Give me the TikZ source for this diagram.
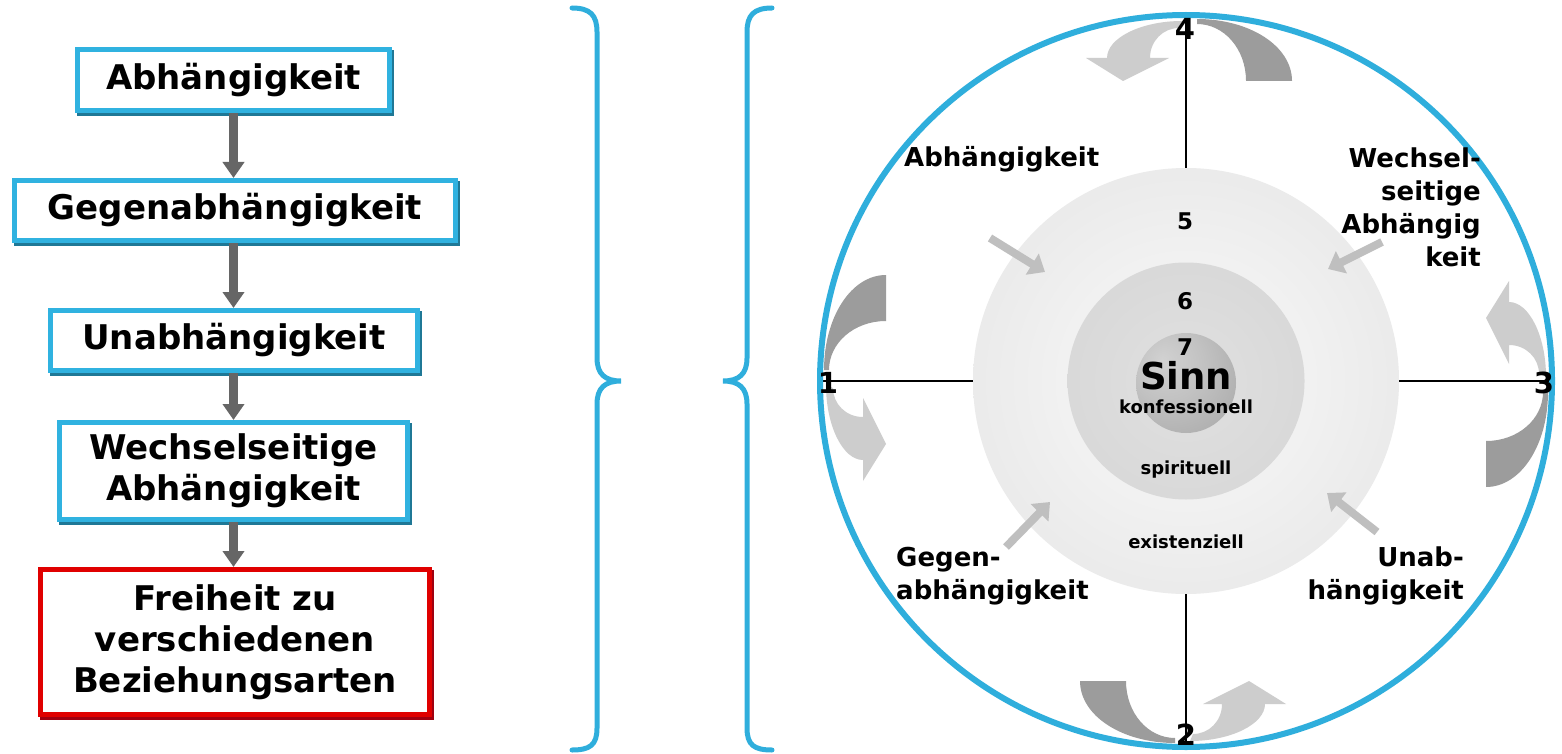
\documentclass[tikz,border=0pt]{standalone}
\usepackage{fontspec}
\setmainfont{DejaVu Sans}
\usetikzlibrary{arrows.meta,calc}

\definecolor{frameblue}{HTML}{30B2E0}
\definecolor{framedark}{HTML}{1F7896}
\definecolor{framered}{HTML}{E00000}
\definecolor{framereddark}{HTML}{A00010}
\definecolor{ringblue}{HTML}{2FAEDC}
\definecolor{flowgray}{HTML}{666666}
\definecolor{tailgray}{HTML}{9C9C9C}
\definecolor{headgray}{HTML}{CDCDCD}

% grey sphere with a highlight to the upper left
\pgfdeclareradialshading{softball}{\pgfpoint{-12bp}{12bp}}{%
  color(0bp)=(black!18); color(18bp)=(black!24); color(40bp)=(black!33);
  color(62bp)=(black!42); color(80bp)=(black!46)}

\newcommand{\bxfont}{\fontsize{34}{41}\selectfont\bfseries}
\newcommand{\lblfont}{\fontsize{26}{32.7}\selectfont\bfseries}
\newcommand{\numfont}{\fontsize{29}{30}\selectfont\bfseries}
\newcommand{\ringnumfont}{\fontsize{23}{24}\selectfont\bfseries}
\newcommand{\layerfont}{\fontsize{18}{20}\selectfont\bfseries}

\tikzset{
  stagebox/.style={draw=frameblue, line width=5pt, fill=white, inner sep=0pt,
    outer sep=0pt, align=center, font=\bxfont,
    preaction={draw=framedark, line width=5pt,
      transform canvas={shift={(2pt,-3pt)}}}},
  goalbox/.style={stagebox, draw=framered,
    preaction={draw=framereddark, line width=5pt,
      transform canvas={shift={(2pt,-3pt)}}}},
  flow/.style={draw=flowgray, line width=9pt,
    -{Triangle[width=21pt,length=16pt]}, shorten <=2.5pt, shorten >=2.5pt},
  bracket/.style={draw=ringblue, line width=5pt, line cap=round},
  disc/.style={circle, inner sep=0pt, outer sep=0pt},
  axisline/.style={draw=black, line width=1.5pt},
  inarrow/.style={draw=black!25, line width=8pt,
    -{Triangle[width=24pt,length=15pt]}},
  label/.style={font=\lblfont, inner sep=0pt},
  txt/.style={inner sep=0pt}
}

\begin{document}
\begin{tikzpicture}[x=1pt,y=-1pt]
\useasboundingbox (0,0) rectangle (1562,754);

% ---------- left column: stages ----------
\node[stagebox, minimum width=312pt, minimum height=61pt] (b1) at (233.5,80) {Abhängigkeit};
\node[stagebox, minimum width=441pt, minimum height=60pt] (b2) at (235,210.5) {Gegenabhängigkeit};
\node[stagebox, minimum width=367pt, minimum height=60pt] (b3) at (234,340.5) {Unabhängigkeit};
\node[stagebox, minimum width=348pt, minimum height=97pt] (b4) at (233.5,471) {Wechselseitige\\Abhängigkeit};
\node[goalbox, minimum width=389pt, minimum height=145pt] (b5) at (235,642) {Freiheit zu\\verschiedenen\\Beziehungsarten};

\draw[flow] (b1.south) -- (b1.south |- b2.north);
\draw[flow] (b2.south -| b1.south) -- (b1.south |- b3.north);
\draw[flow] (b3.south -| b1.south) -- (b1.south |- b4.north);
\draw[flow] (b4.south -| b1.south) -- (b1.south |- b5.north);

% ---------- braces ----------
\draw[bracket] (572,8) .. controls (590,8) and (597,15) .. (597,32) -- (597,358)
  .. controls (597,374) and (605,381) .. (621,381)
  .. controls (605,381) and (597,388) .. (597,404) -- (597,728)
  .. controls (597,745) and (590,750) .. (572,750);
\draw[bracket] (772,8) .. controls (754,8) and (747,15) .. (747,32) -- (747,358)
  .. controls (747,374) and (739,381) .. (723,381)
  .. controls (739,381) and (747,388) .. (747,404) -- (747,728)
  .. controls (747,745) and (754,750) .. (772,750);

% ---------- circle model ----------
\coordinate (C) at (1186,381);
\node[disc, minimum size=736pt, fill=white] (outer) at (C) {};
\node[disc, minimum size=426pt, inner color=black!2, outer color=black!8] (disc) at (C) {};
\node[disc, minimum size=237pt, inner color=black!12, outer color=black!15] (mid) at (C) {};
\node[disc, minimum size=100pt, shading=softball] (core) at (1186,383) {};

\draw[axisline] (outer.north) -- (disc.north);
\draw[axisline] (outer.south) -- (disc.south);
\draw[axisline] (outer.west) -- (disc.west);
\draw[axisline] (outer.east) -- (disc.east);

% curved turn arrows at the four points
\foreach \ang in {0,-90,180,90}{
  \begin{scope}[rotate around={\ang:(C)}]
    \fill[tailgray] (1197,19) .. controls (1249.5,19) and (1292,46) .. (1292,81)
      -- (1246,81) .. controls (1246,49) and (1224,24) .. (1197,24) -- cycle;
    \fill[headgray] (1182,21) .. controls (1141,21) and (1107,38) .. (1107,58)
      -- (1086,58) -- (1123,81) -- (1169,58) -- (1150,58)
      .. controls (1150,41) and (1163,28) .. (1179,28) -- cycle;
  \end{scope}
}

\draw[ringblue, line width=6pt] (outer.center) circle (366pt);

% inward arrows
\coordinate (t1) at (990,238);  \coordinate (h1) at (1045,272);
\coordinate (t2) at (1382,242); \coordinate (h2) at (1328,269);
\coordinate (t3) at (1006,547); \coordinate (h3) at (1050,502);
\coordinate (t4) at (1377,532); \coordinate (h4) at (1327,493);
\draw[inarrow] (t1) -- (h1);
\draw[inarrow] (t2) -- (h2);
\draw[inarrow] (t3) -- (h3);
\draw[inarrow] (t4) -- (h4);

% numbers
\node[txt, font=\numfont] (n4) at (1185,29) {4};
\node[txt, font=\numfont] (n2) at (1186,735) {2};
\node[txt, font=\numfont] (n1) at (828,383) {1};
\node[txt, font=\numfont] (n3) at (1544,383) {3};
\node[txt, font=\ringnumfont, anchor=base] (n5) at (1185,229) {5};
\node[txt, font=\ringnumfont, anchor=base] (n6) at (1185,309) {6};
\node[txt, font=\ringnumfont, anchor=base] (n7) at (1185,355) {7};

% layer names
\node[txt, font=\fontsize{37}{38}\selectfont\bfseries, anchor=base] (sinn) at (1186,389) {Sinn};
\node[txt, font=\layerfont, anchor=base] (l1) at (1186,413) {konfessionell};
\node[txt, font=\layerfont, anchor=base] (l2) at (1186,474) {spirituell};
\node[txt, font=\layerfont, anchor=base] (l3) at (1186,548) {existenziell};

% stage labels around the circle
\node[label, anchor=base west] (s1) at (904,167) {Abhängigkeit};
\node[label, anchor=north east, align=right] (s4) at (1481,148) {Wechsel-\\seitige\\Abhängig\\keit};
\node[label, anchor=north west, align=left] (s2) at (896,547) {Gegen-\\abhängigkeit};
\node[label, anchor=north east, align=right] (s3) at (1464,547) {Unab-\\hängigkeit};
\end{tikzpicture}
\end{document}
